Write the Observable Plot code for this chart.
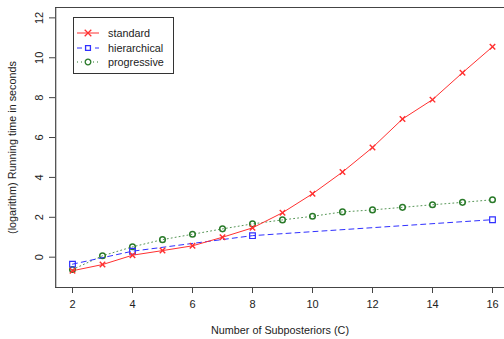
<!DOCTYPE html>
<html><head><meta charset="utf-8">
<script src="https://cdn.jsdelivr.net/npm/d3@7"></script>
<script src="https://cdn.jsdelivr.net/npm/@observablehq/plot@0.6"></script>
<style>
body{margin:0;background:#fff;font-family:"Liberation Sans",Arial,sans-serif;}
#wrap{position:relative;width:504px;height:339px;}
#legend{position:absolute;left:73px;top:17px;width:101px;height:57px;border:1px solid #333;background:#fff;box-sizing:border-box;font-size:10.8px;color:#222;}
#legend .row{position:absolute;left:0;height:14px;line-height:14px;}
#legend svg{position:absolute;left:2px;top:0;}
#legend span{position:absolute;left:34px;top:0;white-space:nowrap;}
</style></head>
<body><div id="wrap"><div id="legend"></div></div>
<script>
const cAll = [2,3,4,5,6,7,8,9,10,11,12,13,14,15,16];
const standard = [-0.68,-0.37,0.10,0.33,0.57,1.00,1.47,2.23,3.18,4.27,5.50,6.93,7.90,9.25,10.55];
const cHier = [2,4,8,16];
const hierarchical = [-0.35,0.30,1.08,1.88];
const progressive = [-0.62,0.07,0.52,0.88,1.15,1.42,1.67,1.87,2.05,2.27,2.37,2.50,2.63,2.75,2.88];
const xTicks = [2,4,6,8,10,12,14,16];
const yTicks = [0,2,4,6,8,10,12];
const seriesNames = ["standard","hierarchical","progressive"];
const colors = ["#ff3030","#3030ff","#2a7a2a"];

const std = cAll.map((c,i)=>({c, v: standard[i]}));
const hie = cHier.map((c,i)=>({c, v: hierarchical[i]}));
const pro = cAll.map((c,i)=>({c, v: progressive[i]}));

const chart = Plot.plot({
  width: 504, height: 339,
  marginLeft: 55, marginRight: 0, marginTop: 7, marginBottom: 52,
  style: {fontFamily: '"Liberation Sans", Arial, sans-serif', fontSize: "11px", color: "#222", background: "#fff"},
  x: {domain: [1.44, 16.56], range: [55.2, 508.8]},
  y: {domain: [-1.52, 12.52]},
  marks: [
    Plot.ruleY([-1.52, 12.52], {stroke: "#444", strokeWidth: 1.2}),
    Plot.ruleX([1.44], {stroke: "#444", strokeWidth: 1.2}),
    Plot.axisX({ticks: xTicks, tickSize: 6, tickPadding: 7, stroke: "#444", fontSize: 11, label: null}),
    Plot.axisY({ticks: yTicks, tickSize: 6, tickPadding: 7, tickRotate: -90, stroke: "#444", fontSize: 11, label: null}),
    Plot.text(["Number of Subposteriors (C)"], {frameAnchor: "bottom", dy: 46, fontSize: 10.8, fill: "#222"}),
    Plot.text(["(logarithm) Running time in seconds"], {frameAnchor: "left", dx: -43, rotate: -90, textAnchor: "middle", fontSize: 10.8, fill: "#222"}),
    Plot.line(pro, {x: "c", y: "v", stroke: colors[2], strokeWidth: 1, strokeDasharray: "1,3", strokeOpacity: 0.8}),
    Plot.dot(pro, {x: "c", y: "v", stroke: colors[2], symbol: "circle", r: 2.8, strokeWidth: 1.5}),
    Plot.line(hie, {x: "c", y: "v", stroke: colors[1], strokeWidth: 1, strokeDasharray: "5,4"}),
    Plot.dot(hie, {x: "c", y: "v", stroke: colors[1], symbol: "square", r: 3.2, strokeWidth: 1.2}),
    Plot.line(std, {x: "c", y: "v", stroke: colors[0], strokeWidth: 1}),
    Plot.dot(std, {x: "c", y: "v", stroke: colors[0], symbol: "times", r: 2.6, strokeWidth: 1.4})
  ]
});
document.getElementById("wrap").prepend(chart);

const legend = document.getElementById("legend");
const syms = ["times","square","circle"];
const dashes = ["none","5,4","1,3"];
seriesNames.forEach((name,i)=>{
  const row = document.createElement("div");
  row.className = "row";
  row.style.top = (8 + i*14.5) + "px";
  const ns = "http://www.w3.org/2000/svg";
  const s = document.createElementNS(ns,"svg");
  s.setAttribute("width","24"); s.setAttribute("height","14");
  const l = document.createElementNS(ns,"line");
  l.setAttribute("x1","1"); l.setAttribute("x2","23"); l.setAttribute("y1","7"); l.setAttribute("y2","7");
  l.setAttribute("stroke",colors[i]); if(dashes[i]!=="none") l.setAttribute("stroke-dasharray",dashes[i]);
  s.appendChild(l);
  const p = document.createElementNS(ns,"path");
  p.setAttribute("d", d3.symbol(syms[i]==="times"?d3.symbolTimes:syms[i]==="square"?d3.symbolSquare2:d3.symbolCircle, syms[i]==="circle"?25:30)());
  p.setAttribute("transform","translate(12,7)");
  p.setAttribute("fill","white"); p.setAttribute("stroke",colors[i]); p.setAttribute("stroke-width","1.3");
  s.appendChild(p);
  row.appendChild(s);
  const t = document.createElement("span"); t.textContent = name;
  row.appendChild(t);
  legend.appendChild(row);
});
</script></body></html>
